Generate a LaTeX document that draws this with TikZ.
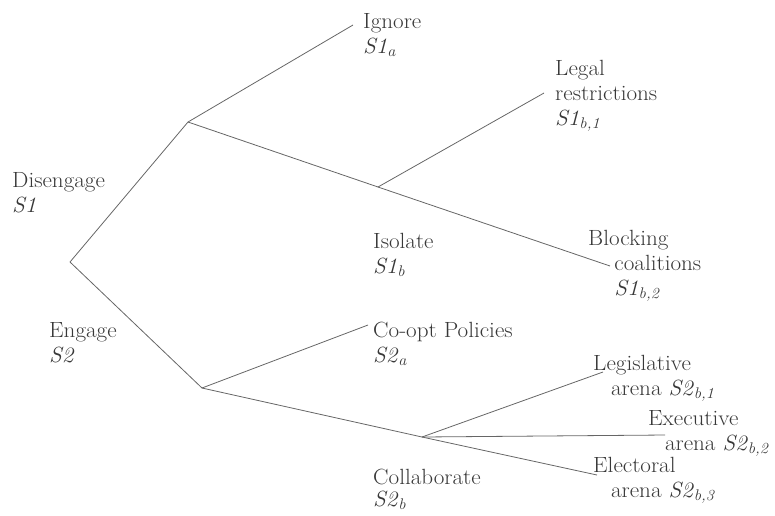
\documentclass[tikz,border=0pt]{standalone}
\begin{document}
\begin{tikzpicture}[x=1pt,y=-1pt,
  branch/.style={draw=black!60, line width=0.8pt},
  lbl/.style={anchor=base west, inner sep=0pt, text=black!78,
    xscale=1.05, transform shape,
    font=\fontsize{22}{25}\selectfont},
]
\useasboundingbox (0,0) rectangle (775,515);
\newcommand{\sub}[2]{\textit{#1}\textsubscript{\textit{#2}}}
\newcommand{\lines}[1]{\begin{tabular}[t]{@{}l@{}}#1\end{tabular}}
% branch points
\coordinate (root) at (70,262);
\coordinate (s1) at (188,122);
\coordinate (s2) at (202,388);
\coordinate (s1b) at (378,187);
\coordinate (s2b) at (422,437);
% free ends
\coordinate (e-ignore) at (353,25);
\coordinate (e-legal) at (544,93);
\coordinate (e-block) at (610,266);
\coordinate (e-coopt) at (368,325);
\coordinate (e-legis) at (603,372);
\coordinate (e-exec) at (665,435);
\coordinate (e-elect) at (597,475);
% connectors
\draw[branch] (root) -- (s1);
\draw[branch] (root) -- (s2);
\draw[branch] (s1) -- (e-ignore);
\draw[branch] (s1) -- (s1b);
\draw[branch] (s1b) -- (e-block);
\draw[branch] (s1b) -- (e-legal);
\draw[branch] (s2) -- (e-coopt);
\draw[branch] (s2) -- (s2b);
\draw[branch] (s2b) -- (e-legis);
\draw[branch] (s2b) -- (e-exec);
\draw[branch] (s2b) -- (e-elect);
% labels
\node[lbl] (l-dis) at (12,187) {\lines{Disengage\\\textit{S1}}};
\node[lbl] (l-eng) at (49,337) {\lines{Engage\\\textit{S2}}};
\node[lbl] (l-ign) at (363,28) {\lines{Ignore\\\sub{S1}{a}}};
\node[lbl] (l-legal) at (555,75) {\lines{Legal\\restrictions\\\sub{S1}{b,1}}};
\node[lbl] (l-block) at (588,245) {\lines{Blocking\\\hspace{25pt}coalitions\\\hspace{25pt}\sub{S1}{b,2}}};
\node[lbl] (l-iso) at (373,248) {\lines{Isolate\\\sub{S1}{b}}};
\node[lbl] (l-coopt) at (373,337) {\lines{Co-opt Policies\\\sub{S2}{a}}};
\node[lbl] (l-coll) at (373,484) {\lines{Collaborate\\[-3pt]\sub{S2}{b}}};
\node[lbl] (l-legis) at (593,370) {\lines{Legislative\\\hspace{17pt}arena \sub{S2}{b,1}}};
\node[lbl] (l-exec) at (648,425) {\lines{Executive\\\hspace{16pt}arena \sub{S2}{b,2}}};
\node[lbl] (l-elect) at (593,472) {\lines{Electoral\\\hspace{17pt}arena \sub{S2}{b,3}}};
\end{tikzpicture}
\end{document}
